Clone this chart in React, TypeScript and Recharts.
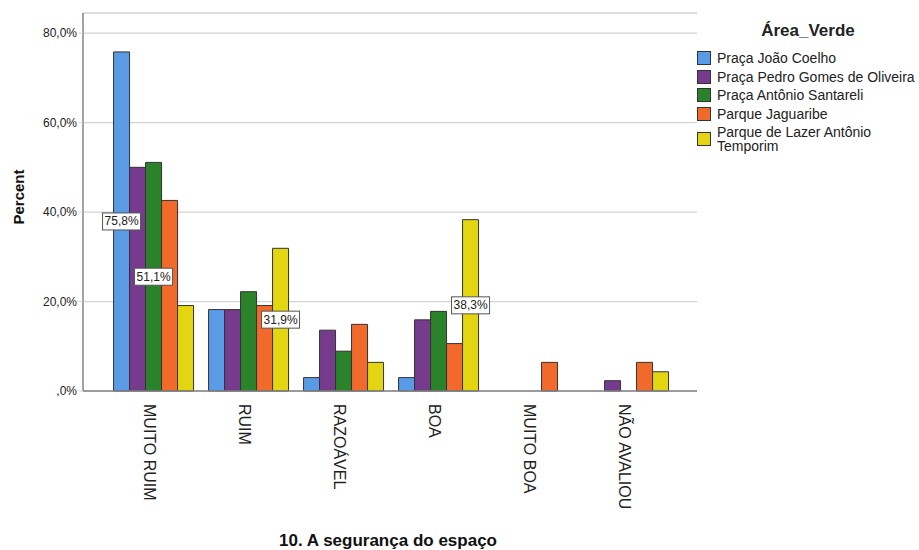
import React from 'react';
import { BarChart, Bar, XAxis, YAxis, CartesianGrid, LabelList, Label } from 'recharts';

const categories = ['MUITO RUIM', 'RUIM', 'RAZOÁVEL', 'BOA', 'MUITO BOA', 'NÃO AVALIOU'];
const seriesNames = [
  'Praça João Coelho',
  'Praça Pedro Gomes de Oliveira',
  'Praça Antônio Santareli',
  'Parque Jaguaribe',
  'Parque de Lazer Antônio Temporim',
];
const joaoCoelho = [75.8, 18.2, 3.0, 3.0, 0, 0];
const pedroGomes = [50.0, 18.2, 13.6, 15.9, 0, 2.3];
const antonioSantareli = [51.1, 22.2, 8.9, 17.8, 0, 0];
const jaguaribe = [42.6, 19.1, 14.9, 10.6, 6.4, 6.4];
const lazerTemporim = [19.1, 31.9, 6.4, 38.3, 0, 4.3];
const yTicks = [0, 20, 40, 60, 80];
// indices of the categories whose value is shown in a label box, per series
const joaoCoelhoLabels = [0];
const pedroGomesLabels: number[] = [];
const antonioSantareliLabels = [0];
const jaguaribeLabels: number[] = [];
const lazerTemporimLabels = [1, 3];

const seriesValues = [joaoCoelho, pedroGomes, antonioSantareli, jaguaribe, lazerTemporim];
const seriesLabels = [joaoCoelhoLabels, pedroGomesLabels, antonioSantareliLabels, jaguaribeLabels, lazerTemporimLabels];
const keys = ['s0', 's1', 's2', 's3', 's4'];
const colors = ['#5A9BE5', '#763B8D', '#2A822B', '#F26A2B', '#E3D50F'];

const data = categories.map((c, i) => {
  const row: any = { category: c };
  seriesValues.forEach((vals, s) => {
    row[keys[s]] = vals[i];
  });
  return row;
});

const FONT = '"Liberation Sans", Arial, Helvetica, sans-serif';

const fmtPct = (v: number) => (v === 0 ? ',0%' : v.toFixed(1).replace('.', ',') + '%');

const XTick = (props: any) => {
  const { x, y, payload } = props;
  return (
    <text
      transform={`translate(${x - 3},${y + 5}) rotate(90)`}
      textAnchor="start"
      dy="0.35em"
      fontSize={16}
      fill="#222"
      fontFamily={FONT}
    >
      {payload.value}
    </text>
  );
};

const makeLabel = (labelled: number[]) => (props: any) => {
  const vb = props.viewBox || {};
  const x = props.x ?? vb.x;
  const y = props.y ?? vb.y;
  const width = props.width ?? vb.width;
  const height = props.height ?? vb.height;
  const { value, index } = props;
  if (!labelled.includes(index)) return null;
  const cx = x + width / 2;
  const cy = y + height / 2;
  const w = 38;
  const h = 17;
  return (
    <g>
      <rect x={cx - w / 2} y={cy - h / 2} width={w} height={h} fill="#fff" stroke="#555" strokeWidth={1} />
      <text x={cx} y={cy} textAnchor="middle" dominantBaseline="central" fontSize={12} fill="#222" fontFamily={FONT}>
        {fmtPct(Number(value))}
      </text>
    </g>
  );
};

const LegendBox = () => (
  <div style={{ position: 'absolute', left: 697, top: 21, width: 222, fontFamily: FONT, color: '#222' }}>
    <div style={{ fontWeight: 'bold', fontSize: 17, textAlign: 'center', width: 222, lineHeight: '20px', marginBottom: 10 }}>
      Área_Verde
    </div>
    {seriesNames.map((n, i) => (
      <div key={n} style={{ display: 'flex', alignItems: 'center', marginBottom: 4.5 }}>
        <div
          style={{
            width: 12,
            height: 12,
            background: colors[i],
            border: '1px solid #333',
            flex: '0 0 auto',
          }}
        />
        <div style={{ fontSize: 14, lineHeight: '14px', marginLeft: 6, width: 203 }}>{n}</div>
      </div>
    ))}
  </div>
);

export default function App() {
  return (
    <div style={{ position: 'absolute', left: 0, top: 0, width: 919, height: 550, background: '#fff', fontFamily: FONT }}>
      <BarChart
        width={919}
        height={550}
        data={data}
        margin={{ top: 13, right: 222, bottom: 0, left: 0 }}
        barCategoryGap="9%"
        barGap={0}
      >
        <CartesianGrid vertical={false} stroke="#d3d3d3" strokeWidth={1.3} />
        <XAxis
          dataKey="category"
          interval={0}
          padding={{ left: 22, right: 22 }}
          height={159}
          tickLine={false}
          axisLine={{ stroke: '#858585', strokeWidth: 1.5 }}
          tick={<XTick />}
        >
          <Label
            content={() => (
              <text x={388} y={546} textAnchor="middle" fontSize={17} fontWeight="bold" fill="#111" fontFamily={FONT}>
                10. A segurança do espaço
              </text>
            )}
          />
        </XAxis>
        <YAxis
          width={83}
          domain={[0, 84.5]}
          ticks={yTicks}
          tickFormatter={fmtPct}
          tick={{ fill: '#222', fontSize: 12, fontFamily: FONT }}
          tickLine={{ stroke: '#d3d3d3' }}
          tickSize={4}
          tickMargin={2}
          axisLine={{ stroke: '#858585', strokeWidth: 1.5 }}
        >
          <Label
            content={() => (
              <text
                x={18}
                y={197}
                transform="rotate(-90 18 197)"
                textAnchor="middle"
                dominantBaseline="central"
                fontSize={15}
                fontWeight="bold"
                fill="#111"
                fontFamily={FONT}
              >
                Percent
              </text>
            )}
          />
        </YAxis>
        {keys.map((k, s) => (
          <Bar key={k} dataKey={k} name={seriesNames[s]} fill={colors[s]} stroke="#333" strokeWidth={1} isAnimationActive={false}>
            <LabelList dataKey={k} content={makeLabel(seriesLabels[s])} />
          </Bar>
        ))}
      </BarChart>
      <LegendBox />
    </div>
  );
}
